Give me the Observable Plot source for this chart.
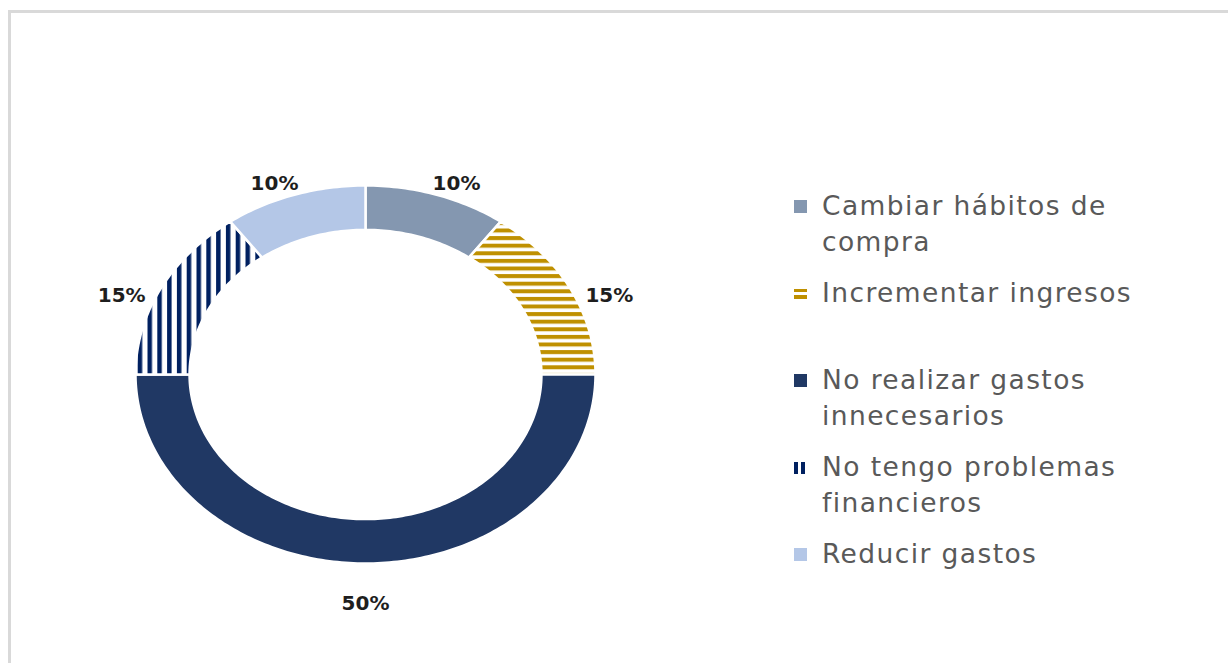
<!DOCTYPE html>
<html><head><meta charset="utf-8">
<script src="https://cdn.jsdelivr.net/npm/d3@7"></script>
<script src="https://cdn.jsdelivr.net/npm/@observablehq/plot@0.6"></script>
<style>
body{margin:0;background:#fff;}
#wrap{position:relative;width:1228px;height:663px;overflow:hidden;background:#fff;}
#frame{position:absolute;left:8px;top:10px;right:-10px;bottom:-10px;border-left:3px solid #d9d9d9;border-top:3px solid #d9d9d9;}
#chart{position:absolute;left:0;top:0;}
#legend{position:absolute;left:794px;top:188px;font-family:"DejaVu Sans",sans-serif;font-size:26.5px;letter-spacing:1.4px;color:#595959;}
.item{position:relative;height:87px;padding-left:28px;width:350px;line-height:36px;}
.sw{position:absolute;left:0;top:12px;width:13px;height:13px;}
</style>
</head><body>
<div id="wrap"><div id="frame"></div><div id="chart"></div><div id="legend"></div></div>
<script>
const categories = ["Cambiar hábitos de compra", "Incrementar ingresos", "No realizar gastos innecesarios", "No tengo problemas financieros", "Reducir gastos"];
const values = [10, 15, 50, 15, 10];
const labels = ["10%", "15%", "50%", "15%", "10%"];

const sliceFill = {
  "Cambiar hábitos de compra": "#8497B0",
  "Incrementar ingresos": "url(#hstripe)",
  "No realizar gastos innecesarios": "#203864",
  "No tengo problemas financieros": "url(#vstripe)",
  "Reducir gastos": "#B4C7E7"
};
const swatchCss = {
  "Cambiar hábitos de compra": "background:#8497B0;",
  "Incrementar ingresos": "top:14px;height:10px;background:linear-gradient(to bottom,#BF9000 0 3.5px,transparent 3.5px 6.5px,#BF9000 6.5px 10px);",
  "No realizar gastos innecesarios": "background:#203864;",
  "No tengo problemas financieros": "top:13px;width:12px;height:12px;background:linear-gradient(to right,#002060 0 4px,transparent 4px 7px,#002060 7px 11px,transparent 11px);",
  "Reducir gastos": "background:#B4C7E7;"
};

const total = d3.sum(values);
let cum = 0;
const slices = categories.map((c, i) => {
  const a0 = cum / total * 2 * Math.PI;
  cum += values[i];
  const a1 = cum / total * 2 * Math.PI;
  return {c, i, a0, a1, mid: (a0 + a1) / 2, label: labels[i]};
});
const R0 = 0.765, R1 = 1;
function ring(s) {
  const pts = [];
  const n = Math.max(8, Math.ceil((s.a1 - s.a0) / (Math.PI / 180)));
  for (let k = 0; k <= n; k++) { const a = s.a0 + (s.a1 - s.a0) * k / n; pts.push({x: R1 * Math.sin(a), y: R1 * Math.cos(a)}); }
  for (let k = n; k >= 0; k--) { const a = s.a0 + (s.a1 - s.a0) * k / n; pts.push({x: R0 * Math.sin(a), y: R0 * Math.cos(a)}); }
  return pts;
}
// label placement just outside the ring (wider offset sideways, like the original layout)
const lx = s => { const sn = Math.sin(s.mid); return sn * (1.328 - 0.155 * Math.abs(sn)); };
const ly = s => { const c = Math.cos(s.mid); return c * (0.904 - 0.064 * c + 0.2418 * c * c); };

const marks = slices.map(s => Plot.line(ring(s), {
  x: "x", y: "y", curve: "linear-closed",
  fill: sliceFill[s.c], stroke: "white", strokeWidth: 2.5
}));
marks.push(Plot.text(slices, {
  x: lx, y: ly,
  text: "label",
  fontFamily: "DejaVu Sans", fontWeight: "bold", fontSize: 20, fill: "#1e1e1e",
  style: "letter-spacing:1px"
}));

const svg = Plot.plot({
  width: 1228, height: 663,
  x: {domain: [-1, 1], range: [135, 595], axis: null},
  y: {domain: [-1, 1], range: [563, 185], axis: null},
  style: {background: "transparent"},
  marks
});
const defs = d3.select(svg).insert("defs", ":first-child");
const hp = defs.append("pattern").attr("id", "hstripe").attr("patternUnits", "userSpaceOnUse").attr("width", 20).attr("height", 7.6);
hp.append("rect").attr("x", 0).attr("y", 0).attr("width", 20).attr("height", 4).attr("fill", "#BF9000");
const vp = defs.append("pattern").attr("id", "vstripe").attr("patternUnits", "userSpaceOnUse").attr("width", 9.8).attr("height", 20);
vp.append("rect").attr("x", 0).attr("y", 0).attr("width", 4.5).attr("height", 20).attr("fill", "#002060");
document.getElementById("chart").appendChild(svg);

const legend = d3.select("#legend");
categories.forEach(c => {
  const it = legend.append("div").attr("class", "item");
  it.append("div").attr("class", "sw").attr("style", swatchCss[c]);
  it.append("span").text(c);
});
</script>
</body></html>
